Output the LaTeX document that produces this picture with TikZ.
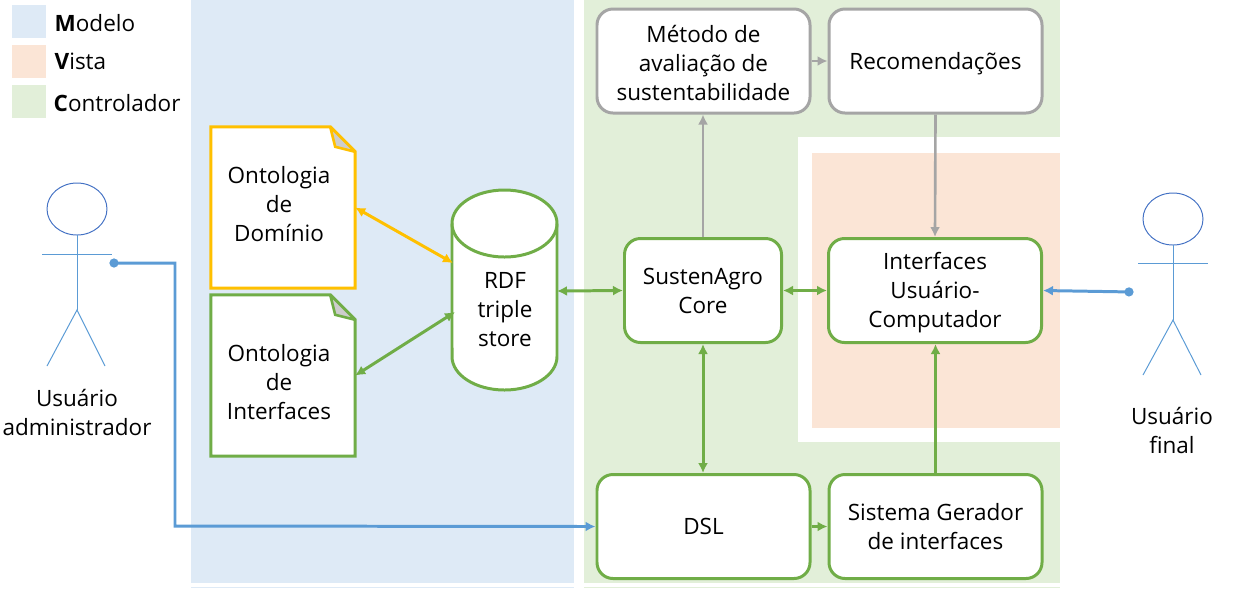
\documentclass[tikz,border=0pt]{standalone}
\usepackage{fontspec}
\setmainfont{Open Sans}
\usetikzlibrary{positioning,calc,arrows.meta}

\definecolor{modelofill}{HTML}{DEEAF6}
\definecolor{vistafill}{HTML}{FBE5D6}
\definecolor{ctrlfill}{HTML}{E2EFD9}
\definecolor{ctrlline}{HTML}{70AD47}
\definecolor{ontoline}{HTML}{FFC000}
\definecolor{greyline}{HTML}{A5A5A5}
\definecolor{userline}{HTML}{5B9BD5}
\definecolor{headline}{HTML}{4472C4}
\definecolor{foldfill}{HTML}{CDCDCD}

\tikzset{
  txt/.style={font=\fontsize{6.4}{8.25}\selectfont,align=center,inner sep=0pt,text=black},
  box/.style={txt,draw=ctrlline,line width=.85pt,fill=white,rounded corners=.16cm,minimum width=2.13cm,minimum height=1.04cm},
  lowtxt/.style={execute at begin node={\rule{0pt}{#1}}},
  greybox/.style={box,draw=greyline},
  corebox/.style={box,minimum width=1.57cm},
  docbox/.style={inner sep=0pt,minimum width=1.43cm,minimum height=1.6cm},
  greenlink/.style={draw=ctrlline,line width=.85pt,{Latex[length=1mm,width=1mm]}-{Latex[length=1mm,width=1mm]}},
  greenone/.style={draw=ctrlline,line width=.85pt,-{Latex[length=1mm,width=1mm]}},
  yellowlink/.style={greenlink,draw=ontoline},
  greylink/.style={draw=greyline,line width=.75pt,-{Latex[length=1mm,width=1mm]}},
  userlink/.style={draw=userline,line width=.85pt,{Circle[length=.9mm,width=.9mm]}-{Latex[length=1mm,width=1mm]}},
  actor/.style={draw=userline,line width=.28pt},
}

\newcommand{\docfold}[2]{
  \draw[#2,fill=white,line width=.85pt,miter limit=2] (#1.south west) -- (#1.north west) -- ($(#1.north east)+(-.25,0)$) -- ($(#1.north east)+(0,.25)$) -- (#1.south east) -- cycle;
  \draw[#2,fill=foldfill,line width=.75pt,miter limit=2] ($(#1.north east)+(-.25,0)$) -- ($(#1.north east)+(-.2,.2)$) -- ($(#1.north east)+(0,.25)$) -- cycle;
}

\begin{document}
\begin{tikzpicture}[x=1cm,y=-1cm]
\useasboundingbox (0,0) rectangle (12.38,5.88);

% camadas
\fill[modelofill] (1.91,0) rectangle (5.74,5.83);
\fill[modelofill] (1.91,5.87) rectangle (5.74,5.88);
\fill[ctrlfill] (5.84,0) rectangle (10.6,1.37);
\fill[ctrlfill] (5.84,1.37) rectangle (7.98,4.42);
\fill[ctrlfill] (5.84,4.42) rectangle (10.6,5.83);
\fill[ctrlfill] (5.84,5.87) rectangle (10.6,5.88);
\fill[vistafill] (8.12,1.53) rectangle (10.6,4.28);

% legenda
\fill[modelofill] (.12,.05) rectangle (.46,.38);
\fill[vistafill] (.12,.45) rectangle (.46,.78);
\fill[ctrlfill] (.12,.85) rectangle (.46,1.18);
\node[txt,anchor=west] (modelo) at (.54,.23) {\textbf{M}odelo};
\node[txt,anchor=west] (vista) at (.54,.61) {\textbf{V}ista};
\node[txt,anchor=west] (controlador) at (.53,1.03) {\textbf{C}ontrolador};

% ontologias
\node[docbox] (dominio) at (2.83,2.075) {};
\docfold{dominio}{draw=ontoline}
\node[txt] (dominiotxt) at (2.79,2.04) {Ontologia\\de\\Domínio};
\node[docbox] (interfonto) at (2.83,3.755) {};
\docfold{interfonto}{draw=ctrlline}
\node[txt] (interfontotxt) at (2.79,3.82) {Ontologia\\de\\Interfaces};

% triple store
\draw[ctrlline,fill=white,line width=.85pt] (4.52,2.235) arc (180:360:.525 and .335) -- (5.57,3.565) arc (0:180:.525 and .335) -- cycle;
\draw[ctrlline,line width=.85pt] (4.52,2.235) arc (180:0:.525 and .335);
\node[txt] (rdf) at (5.05,3.1) {RDF\\triple\\store};

% caixas
\node[greybox,lowtxt=22.3pt] (metodo) at (7.035,.61) {Método de\\avaliação de\\sustentabilidade};
\node[greybox,lowtxt=6.5pt] (recom) at (9.355,.61) {Recomendações};
\node[corebox] (core) at (7.03,2.905) {SustenAgro\\Core};
\node[box,lowtxt=22.6pt] (interf) at (9.35,2.905) {Interfaces\\Usuário-\\Computador};
\node[box] (dsl) at (7.035,5.265) {DSL};
\node[box] (gerador) at (9.355,5.265) {Sistema Gerador\\de interfaces};

% atores
\draw[headline,line width=.28pt] (.77,2.09) ellipse (.3 and .26);
\coordinate (neckA) at (.77,2.35);
\coordinate (hipA) at (.77,3.1);
\draw[actor] (neckA) -- (hipA);
\draw[actor] (.42,2.54) -- (1.12,2.54);
\draw[actor] (.47,3.66) -- (hipA) -- (1.05,3.66);
\node[txt] (admin) at (.77,4.125) {Usuário\\administrador};

\draw[headline,line width=.28pt] (11.73,2.19) ellipse (.3 and .26);
\coordinate (neckB) at (11.73,2.45);
\coordinate (hipB) at (11.73,3.2);
\draw[actor] (neckB) -- (hipB);
\draw[actor] (11.38,2.63) -- (12.08,2.63);
\draw[actor] (11.43,3.75) -- (hipB) -- (12.01,3.75);
\node[txt] (final) at (11.72,4.305) {Usuário\\final};

% ligacoes
\coordinate (adminhand) at (1.095,2.63);
\coordinate (finalhand) at (11.335,2.92);
\coordinate (rdfa) at (4.53,2.63);
\coordinate (rdfb) at (4.55,3.12);
\coordinate (rdfc) at (5.57,2.91);
\draw[userlink] (adminhand) -- (1.75,2.63) -- (1.75,5.26) -- (dsl.west);
\draw[userlink] (finalhand) -- (interf.east);
\draw[yellowlink] (dominio.east) -- (rdfa);
\draw[greenlink] (interfonto.east) -- (rdfb);
\draw[greenlink] (rdfc) -- (core.west);
\draw[greenlink] (core.east) -- (interf.west);
\draw[greenlink] (core.south) -- (core.south |- dsl.north);
\draw[greylink] (core.north) -- (core.north |- metodo.south);
\draw[greylink] (metodo.east) -- (recom.west);
\draw[greylink] (recom.south) -- (interf.north);
\draw[greenone] (dsl.east) -- (gerador.west);
\draw[greenone] (gerador.north) -- (gerador.north |- interf.south);

\end{tikzpicture}
\end{document}
